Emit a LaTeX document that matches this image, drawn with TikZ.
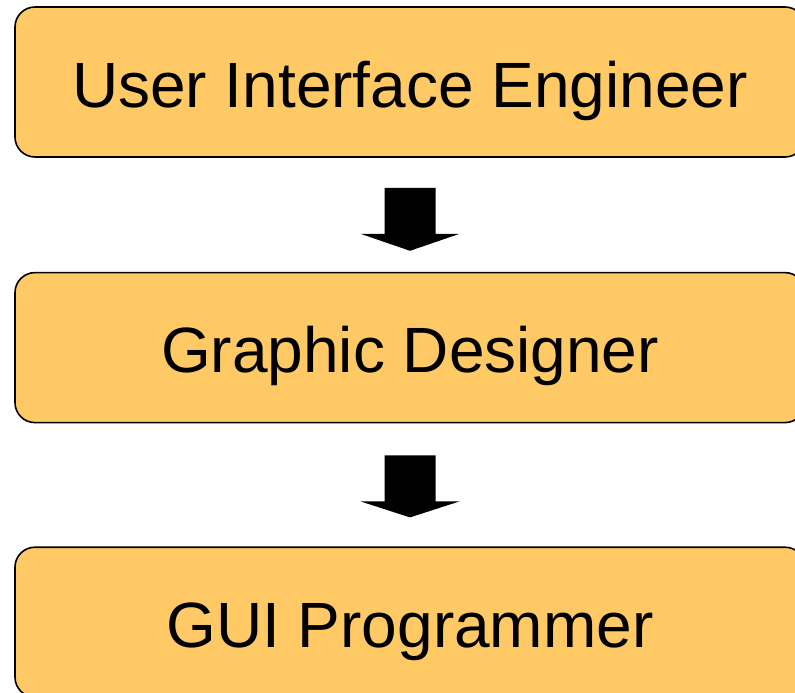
\documentclass[tikz,border=0pt]{standalone}
\usepackage{fontspec}
\setmainfont{Liberation Sans}
\usetikzlibrary{positioning}

\definecolor{roleorange}{RGB}{255,201,102}

\begin{document}
\begin{tikzpicture}[x=1pt, y=1pt,
    role/.style={rectangle, draw, line width=1.6pt, rounded corners=20pt, fill=roleorange,
                 minimum width=790pt, minimum height=150pt, inner sep=0pt,
                 text height=50pt, text depth=0pt,
                 font=\fontsize{64}{74}\selectfont}]

    \clip (0,0) rectangle (795,-693);

    \node[role] (uie) at (410,-82) {User Interface Engineer};
    \node[role, below=114pt of uie] (gd) {Graphic Designer};
    \node[role, below=123pt of gd] (gui) {GUI Programmer};

    %% block arrows between the roles
    \fill ([xshift=-25.5pt, yshift=-30pt]uie.south) -- ++(51,0) -- ++(0,-46) -- ++(24,0)
        -- ++(-49.5,-17) -- ++(-49.5,17) -- ++(24,0) -- cycle;
    \fill ([xshift=-25.5pt, yshift=-32pt]gd.south) -- ++(51,0) -- ++(0,-46) -- ++(24,0)
        -- ++(-49.5,-16) -- ++(-49.5,16) -- ++(24,0) -- cycle;

\end{tikzpicture}
\end{document}
